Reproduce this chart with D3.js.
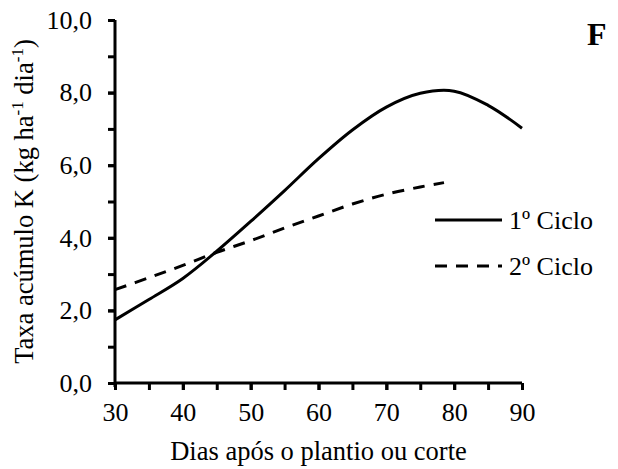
<!DOCTYPE html>
<html>
<head>
<meta charset="utf-8">
<script src="https://cdn.jsdelivr.net/npm/d3@7"></script>
<style>
  body { margin: 0; background: #fff; }
  text { font-family: "Liberation Serif", "Times New Roman", serif; fill: #000; }
</style>
</head>
<body>
<svg id="chart" width="618" height="469"></svg>
<script>
// values
const days1 = [30, 35, 40, 45, 50, 55, 60, 65, 70, 75, 80, 85, 90];
const ciclo1 = [1.74, 2.3, 2.88, 3.63, 4.45, 5.3, 6.18, 6.97, 7.6, 7.98, 8.04, 7.65, 7.02];
const days2 = [30, 35, 40, 45, 50, 55, 60, 65, 70, 75, 78.5];
const ciclo2 = [2.57, 2.9, 3.24, 3.6, 3.92, 4.27, 4.6, 4.93, 5.2, 5.4, 5.52];
const seriesNames = ['1º Ciclo', '2º Ciclo'];
const xTicks = [30, 40, 50, 60, 70, 80, 90];
const yTicks = [0, 2, 4, 6, 8, 10];

const margin = {top: 20, right: 96, bottom: 86, left: 115};
const width = 618 - margin.left - margin.right,
      height = 469 - margin.top - margin.bottom;

const svg = d3.select('#chart');
const g = svg.append('g')
  .attr('transform', 'translate(' + margin.left + ',' + margin.top + ')');

const x = d3.scaleLinear().domain([30, 90]).range([0, width]);
const y = d3.scaleLinear().domain([0, 10]).range([height, 0]);

const fmt = d => d3.format('.1f')(d).replace('.', ',');

// minor ticks first (no labels)
g.append('g')
  .call(d3.axisLeft(y).tickValues(d3.range(0, 11, 1)).tickSize(7).tickFormat(''))
  .call(a => a.select('.domain').remove());

g.append('g')
  .attr('transform', 'translate(0,' + height + ')')
  .call(d3.axisBottom(x).tickValues(d3.range(30, 91, 5)).tickSize(7).tickFormat(''))
  .call(a => a.select('.domain').remove());

const yAxis = g.append('g')
  .call(d3.axisLeft(y).tickValues(yTicks).tickSize(7).tickPadding(16).tickFormat(fmt));
yAxis.select('.domain').attr('d', 'M0,' + (height + 4) + 'V0');

const xAxis = g.append('g')
  .attr('transform', 'translate(0,' + height + ')')
  .call(d3.axisBottom(x).tickValues(xTicks).tickSize(7).tickPadding(13).tickFormat(d3.format('d')));
xAxis.select('.domain').attr('d', 'M0,0H' + width);

g.selectAll('.domain, .tick line').attr('stroke', '#000').attr('stroke-width', 3);
g.selectAll('.tick text').style('font-size', '26px').attr('fill', '#000');

// curves
const line = d3.line().x(d => x(d[0])).y(d => y(d[1])).curve(d3.curveCatmullRom.alpha(0.5));

g.append('path')
  .datum(days1.map((d, i) => [d, ciclo1[i]]))
  .attr('d', line)
  .attr('fill', 'none')
  .attr('stroke', '#000')
  .attr('stroke-width', 3);

g.append('path')
  .datum(days2.map((d, i) => [d, ciclo2[i]]))
  .attr('d', line)
  .attr('fill', 'none')
  .attr('stroke', '#000')
  .attr('stroke-width', 3)
  .attr('stroke-dasharray', '12,9');

// legend
const legend = svg.append('g').attr('transform', 'translate(435,220)');
seriesNames.forEach((name, i) => {
  legend.append('line')
    .attr('x1', 0).attr('x2', 67)
    .attr('y1', i * 46).attr('y2', i * 46)
    .attr('stroke', '#000')
    .attr('stroke-width', 3)
    .attr('stroke-dasharray', i === 1 ? '12,9' : null);
  legend.append('text')
    .attr('x', 74).attr('y', i * 46 + 9)
    .style('font-size', '26px')
    .text(name);
});

// panel letter
svg.append('text')
  .attr('x', 587).attr('y', 45)
  .style('font-size', '32px')
  .style('font-weight', 'bold')
  .text('F');

// axis titles
svg.append('text')
  .attr('x', margin.left + width / 2)
  .attr('y', 460)
  .attr('text-anchor', 'middle')
  .style('font-size', '26.5px')
  .text('Dias após o plantio ou corte');

const yt = svg.append('text')
  .attr('transform', 'translate(33,' + (margin.top + height / 2) + ') rotate(-90)')
  .attr('text-anchor', 'middle')
  .style('font-size', '26.5px');
yt.append('tspan').text('Taxa acúmulo K (kg ha');
yt.append('tspan').attr('dy', -10).style('font-size', '17px').text('-1');
yt.append('tspan').attr('dy', 10).text(' dia');
yt.append('tspan').attr('dy', -10).style('font-size', '17px').text('-1');
yt.append('tspan').attr('dy', 10).text(')');
</script>
</body>
</html>
